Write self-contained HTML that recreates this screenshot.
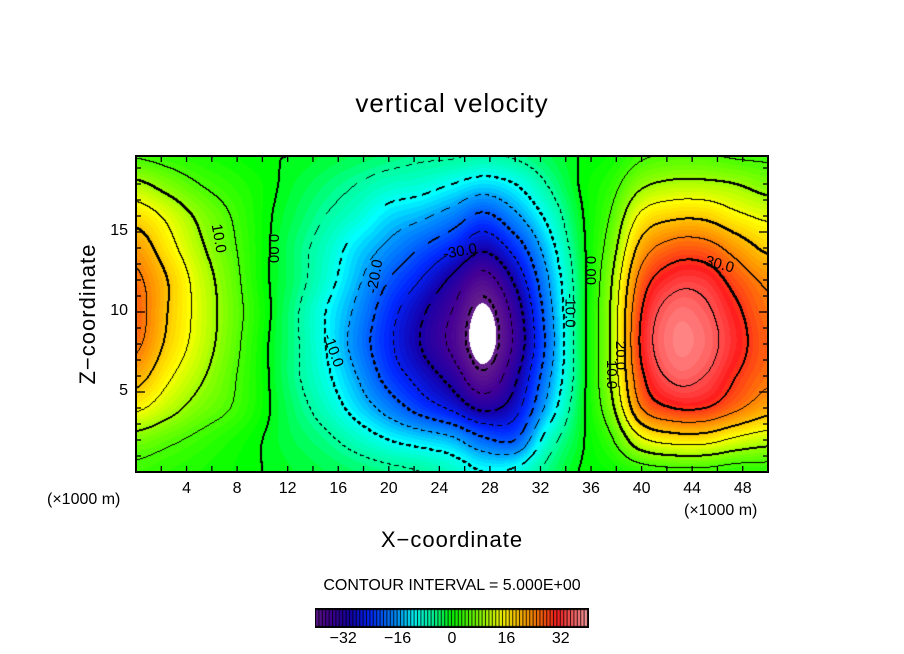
<!DOCTYPE html>
<html><head><meta charset="utf-8"><style>
body{margin:0;background:#fff;}
#wrap{position:relative;width:904px;height:654px;overflow:hidden;font-family:"Liberation Sans",sans-serif;color:#000;}
.t{position:absolute;white-space:nowrap;}
.tick{font-size:16px;}
.cl{position:absolute;font-size:15px;white-space:nowrap;}
</style></head><body>
<div id="wrap">
<div class="t" style="left:0;width:904px;text-align:center;top:88px;font-size:26px;letter-spacing:1px;">vertical velocity</div>
<canvas id="plot" width="632" height="316" style="position:absolute;left:136px;top:156px;"></canvas>
<svg id="axes" width="904" height="654" style="position:absolute;left:0;top:0;"></svg>
<div id="labels"></div>
<div class="t" style="left:88px;top:314px;font-size:22px;letter-spacing:1px;transform:translate(-50%,-50%) rotate(-90deg);">Z−coordinate</div>
<div class="t" style="left:0;width:904px;text-align:center;top:527px;font-size:22px;letter-spacing:1px;">X−coordinate</div>
<div class="t tick" style="left:47px;top:491px;">(×1000 m)</div>
<div class="t tick" style="left:684px;top:502px;">(×1000 m)</div>
<div class="t" style="left:0;width:904px;text-align:center;top:577px;font-size:16px;">CONTOUR INTERVAL = 5.000E+00</div>
<canvas id="cbar" width="274" height="20" style="position:absolute;left:315px;top:608px;"></canvas>
<div class="cl" style="left:204px;top:230px;transform:rotate(80deg);">10.0</div>
<div class="cl" style="left:259px;top:240px;transform:rotate(90deg);">0.00</div>
<div class="cl" style="left:316px;top:342px;transform:rotate(70deg);">-10.0</div>
<div class="cl" style="left:358px;top:268px;transform:rotate(-80deg);">-20.0</div>
<div class="cl" style="left:443px;top:243px;transform:rotate(-10deg);">-30.0</div>
<div class="cl" style="left:553px;top:302px;transform:rotate(90deg);">-10.0</div>
<div class="cl" style="left:576px;top:262px;transform:rotate(90deg);">0.00</div>
<div class="cl" style="left:606px;top:347px;transform:rotate(90deg);">20.0</div>
<div class="cl" style="left:597px;top:366px;transform:rotate(90deg);">10.0</div>
<div class="cl" style="left:705px;top:256px;transform:rotate(15deg);">30.0</div>
</div>
<script>
// grid coordinates (×1000 m)
const xs=[0,2.5,5,7.5,10,12.5,15,17.5,20,22.5,25,27.5,30,32.5,35,37.5,40,42.5,45,47.5,50];
const ys=[0,2,4,6,8,10,12,14,16,18,20];
// vertical velocity values, rows = ys, cols = xs
const w0 =[4,3,2,1,0,-1,-2,-3,-4,-5,-7,-10,-9,-4,0,1,3,4,4,3,3];
const w2 =[8,6,4,2,0,-2,-4,-7,-10,-12,-14,-19,-20,-8,-1,4,14,17,17,14,12];
const w4 =[16,12,8,5,1,-3,-7,-12,-17,-22,-26,-31,-27,-14,-2,8,25,30,30,26,22];
const w6 =[22,16,11,6,1,-4,-9,-15,-22,-27,-32,-39,-31,-17,-3,10,29,36,35,30,26];
const w8 =[26,19,13,7,1,-4,-10,-17,-24,-30,-36,-43,-34,-19,-3,10,31,38,37,32,27];
const w10=[27,20,13.5,7.5,1.5,-4,-10,-16,-23,-29,-35,-42,-33,-18,-3,10,30,37,36,31,26];
const w12=[26,20,13,7,1,-3,-8,-14,-20,-25,-31,-37,-29,-16,-3,9,27,33,33,28,24];
const w14=[23,17,11,6,1,-3,-7,-12,-16,-20,-24,-29,-23,-13,-2,7,22,27,27,23,19];
const w16=[18,14,9,5,1,-2,-5,-8,-12,-14,-17,-21,-16,-9,-1,5,16,19,19,16,14];
const w18=[11,8,5,3,1,-1,-3,-5,-7,-8,-10,-12,-10,-5,0,3,9,11,11,10,8];
const w20=[4,3,2,1,0,0,-1,-2,-3,-4,-4,-5,-4,-2,0,1,4,5,5,4,4];
const grid=[w0,w2,w4,w6,w8,w10,w12,w14,w16,w18,w20];
const xTicks=[4,8,12,16,20,24,28,32,36,40,44,48];
const yTicks=[5,10,15];
const cbarTicks=[-32,-16,0,16,32];

const PX0=136,PX1=768,PY0=156,PY1=472,XMAX=50,YMAX=19.75;
const sx=v=>PX0+v/XMAX*(PX1-PX0);
const sy=v=>PY1-v/YMAX*(PY1-PY0);

function cr(p0,p1,p2,p3,t){return 0.5*((2*p1)+(-p0+p2)*t+(2*p0-5*p1+4*p2-p3)*t*t+(-p0+3*p1-3*p2+p3)*t*t*t);}
function idx(arr,v){let i=0;while(i<arr.length-2&&v>arr[i+1])i++;return [i,(v-arr[i])/(arr[i+1]-arr[i])];}
function val(x,y){
  const [i,tx]=idx(xs,x),[j,ty]=idx(ys,y);
  const nx=xs.length,ny=ys.length,cl=(a,n)=>Math.max(0,Math.min(n-1,a));
  const rows=[];
  for(let k=-1;k<=2;k++){const r=grid[cl(j+k,ny)];
    rows.push(cr(r[cl(i-1,nx)],r[i],r[cl(i+1,nx)],r[cl(i+2,nx)],tx));}
  return cr(rows[0],rows[1],rows[2],rows[3],ty);
}
const stops=[[-41,100,30,140],[-36,70,0,150],[-30,20,0,170],[-24,0,40,255],[-16,0,150,255],[-11,0,255,255],[-5,0,255,150],[0,0,255,0],[8,130,255,0],[15,255,255,0],[23,255,150,0],[31,255,30,30],[40,255,160,160]];
function color(v){
  if(v<=stops[0][0])return stops[0].slice(1);
  for(let k=0;k<stops.length-1;k++){const a=stops[k],b=stops[k+1];
    if(v<=b[0]){const t=(v-a[0])/(b[0]-a[0]);return [0,1,2].map(c=>Math.round(a[c+1]+(b[c+1]-a[c+1])*t));}}
  return stops[stops.length-1].slice(1);
}
// plot
const cv=document.getElementById('plot'),ctx=cv.getContext('2d');
const W=cv.width,H=cv.height,img=ctx.createImageData(W,H);
const V=new Float32Array(W*H);
for(let py=0;py<H;py++)for(let px=0;px<W;px++){
  V[py*W+px]=val((px+0.5)/W*XMAX,(H-py-0.5)/H*YMAX);}
for(let py=0;py<H;py++)for(let px=0;px<W;px++){
  const v=V[py*W+px];let c;
  if(v<-41)c=[255,255,255];else c=color(Math.floor(v));
  const o=(py*W+px)*4;img.data[o]=c[0];img.data[o+1]=c[1];img.data[o+2]=c[2];img.data[o+3]=255;}
// contours
function mark(px,py){if(px<0||py<0||px>=W||py>=H)return;const o=(py*W+px)*4;img.data[o]=0;img.data[o+1]=0;img.data[o+2]=0;}
for(let py=0;py<H-1;py++)for(let px=0;px<W-1;px++){
  const a=Math.floor(V[py*W+px]/5),b=Math.floor(V[py*W+px+1]/5),c=Math.floor(V[(py+1)*W+px]/5);
  let lev=null;
  if(a!==b)lev=Math.max(a,b)*5;else if(a!==c)lev=Math.max(a,c)*5;
  if(lev===null)continue;
  if(lev<-40)continue;
  if(lev<0&&((px+py)%9)>=5)continue;
  mark(px,py);
  if(lev%10===0){mark(px+1,py);mark(px,py+1);}
}
ctx.putImageData(img,0,0);

// axes
const NS='http://www.w3.org/2000/svg',svg=document.getElementById('axes');
function ln(x1,y1,x2,y2,w,name){const l=document.createElementNS(NS,'line');
  l.setAttribute('x1',x1);l.setAttribute('y1',y1);l.setAttribute('x2',x2);l.setAttribute('y2',y2);
  l.setAttribute('stroke','#000');l.setAttribute('stroke-width',w);
  
  
  svg.appendChild(l);}
for(let x=2;x<XMAX;x+=2){ln(sx(x),PY0,sx(x),PY0+6,1.3,'x-tick-top');ln(sx(x),PY1,sx(x),PY1-6,1.3,'x-tick-bottom');}
for(let y=1;y<YMAX;y++){const L=y%5===0?9:5;ln(PX0,sy(y),PX0+L,sy(y),1.3,'y-tick-left');ln(PX1,sy(y),PX1-L,sy(y),1.3,'y-tick-right');}
const fr=document.createElementNS(NS,'rect');
fr.setAttribute('x',PX0);fr.setAttribute('y',PY0);fr.setAttribute('width',PX1-PX0);fr.setAttribute('height',PY1-PY0);
fr.setAttribute('fill','none');fr.setAttribute('stroke','#000');fr.setAttribute('stroke-width',2);


svg.appendChild(fr);
const lab=document.getElementById('labels');
xTicks.forEach(t=>{const d=document.createElement('div');d.className='t tick';
  
  
  d.style.left=(sx(t)-20)+'px';d.style.width='40px';d.style.textAlign='center';d.style.top='480px';d.textContent=t;lab.appendChild(d);});
yTicks.forEach(t=>{const d=document.createElement('div');d.className='t tick';
  
  
  d.style.left='90px';d.style.width='38px';d.style.textAlign='right';d.style.top=(sy(t)-10)+'px';d.textContent=t;lab.appendChild(d);});
// colorbar
const cb=document.getElementById('cbar'),c2=cb.getContext('2d');
const CB0=-40,CB1=40,cbx=v=>1+(v-CB0)/(CB1-CB0)*272;
c2.fillStyle='#000';c2.fillRect(0,0,274,20);
for(let v=CB0;v<CB1;v++){const c=color(v+0.5);c2.fillStyle=`rgb(${c[0]},${c[1]},${c[2]})`;
  const x0=cbx(v),x1=cbx(v+1);c2.fillRect(x0,2,x1-x0-1,16);}
cbarTicks.forEach(t=>{const d=document.createElement('div');d.className='t tick';
  
  
  d.style.left=(315+cbx(t)-25)+'px';d.style.width='50px';d.style.textAlign='center';d.style.top='630px';d.textContent=t===0?'0':(t<0?'−'+(-t):t);lab.appendChild(d);});
</script>
</body></html>
